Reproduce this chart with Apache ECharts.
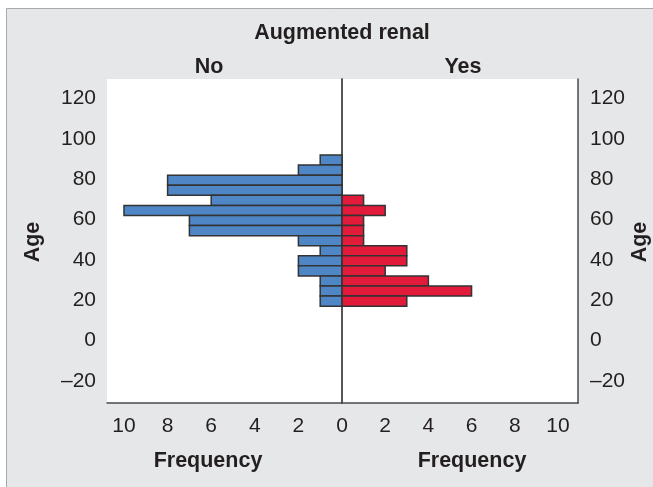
<!DOCTYPE html>
<html>
<head>
<meta charset="utf-8">
<script src="https://cdn.jsdelivr.net/npm/echarts@6/dist/echarts.min.js"></script>
<style>
  html, body { margin: 0; padding: 0; background: #ffffff; }
  #chart { width: 653px; height: 487px; }
</style>
</head>
<body>
<div id="chart"></div>
<script>
// Age bins (lower edge, 5-year width, starting at the youngest age) and counts per group
const binStarts = [87, 82, 77, 72, 67, 62, 57, 52, 47, 42, 37, 32, 27, 22, 17];
const binWidth = 5;
const countsNo  = [1, 2, 8, 8, 6, 10, 7, 7, 2, 1, 2, 2, 1, 1, 1];
const countsYes = [0, 0, 0, 0, 1, 2, 1, 1, 1, 3, 3, 2, 4, 6, 3];

const ageTicks = [-20, 0, 20, 40, 60, 80, 100, 120];
const freqTicksNo  = [2, 4, 6, 8, 10];
const freqTicksYes = [0, 2, 4, 6, 8, 10];

const FONT = "'Liberation Sans', Arial, Helvetica, sans-serif";
const TXT = '#231f20';
const LINE = '#4a4a4a';
const BOLD = 'bold 21.5px ' + FONT;

const toData = counts => binStarts.map((b, i) => [b, b + binWidth, counts[i]]);

function barRenderer(fill) {
  return function (params, api) {
    const f = api.value(2);
    if (!f) return null;
    const a = api.coord([0, api.value(1)]);
    const b = api.coord([f, api.value(0)]);
    const x = Math.min(a[0], b[0]);
    const y = Math.min(a[1], b[1]);
    return {
      type: 'rect',
      shape: { x: x, y: y, width: Math.abs(b[0] - a[0]), height: Math.abs(b[1] - a[1]) },
      style: { fill: fill, stroke: '#333333', lineWidth: 1.5 }
    };
  };
}

const fmtMinus = v => String(v).replace('-', '\u2013');

const ageAxisBase = {
  type: 'value',
  min: -31.0,
  max: 129.67,
  splitLine: { show: false },
  axisTick: { show: false },
  axisLine: { show: true, lineStyle: { color: LINE, width: 1.5 } }
};

const labelStyle = { fontFamily: FONT, fontSize: 21, color: TXT };

function boldText(text, x, y, rotated) {
  return {
    type: 'text', x: x, y: y, rotation: rotated ? Math.PI / 2 : 0,
    style: { text: text, font: BOLD, fill: TXT, align: 'center', verticalAlign: 'middle' }
  };
}

const chart = echarts.init(document.getElementById('chart'), null, { renderer: 'canvas' });
chart.setOption({
  backgroundColor: '#ffffff',
  animation: false,
  graphic: {
    elements: [
      { type: 'rect', z: -100, silent: true,
        shape: { x: 6.5, y: 8.5, width: 700, height: 520 },
        style: { fill: '#e6e7e8', stroke: '#a7a9ac', lineWidth: 1 } },
      boldText('Augmented renal', 342, 33),
      boldText('No', 209, 67),
      boldText('Yes', 463, 67),
      boldText('Frequency', 208, 461),
      boldText('Frequency', 472, 461),
      boldText('Age', 33, 242, true),
      boldText('Age', 640, 242, true)
    ]
  },
  grid: [
    { left: 107, right: 311, top: 79, bottom: 84, show: true, backgroundColor: '#ffffff', borderWidth: 0 },
    { left: 342, right: 75, top: 79, bottom: 84, show: true, backgroundColor: '#ffffff', borderWidth: 0 }
  ],
  xAxis: [
    { type: 'value', gridIndex: 0, inverse: true, min: 0, max: 10.78,
      splitLine: { show: false }, axisTick: { show: false },
      axisLine: { show: true, onZero: false, lineStyle: { color: LINE, width: 1.5 } },
      axisLabel: Object.assign({ margin: 13, customValues: freqTicksNo }, labelStyle) },
    { type: 'value', gridIndex: 1, min: 0, max: 10.93,
      splitLine: { show: false }, axisTick: { show: false },
      axisLine: { show: true, onZero: false, lineStyle: { color: LINE, width: 1.5 } },
      axisLabel: Object.assign({ margin: 13, customValues: freqTicksYes }, labelStyle) }
  ],
  yAxis: [
    Object.assign({}, ageAxisBase, { gridIndex: 0, position: 'left',
      axisLabel: Object.assign({ margin: 11, customValues: ageTicks, formatter: fmtMinus }, labelStyle) }),
    Object.assign({}, ageAxisBase, { gridIndex: 1, position: 'left', axisLabel: { show: false } }),
    Object.assign({}, ageAxisBase, { gridIndex: 1, position: 'right',
      axisLabel: Object.assign({ margin: 12, customValues: ageTicks, formatter: fmtMinus }, labelStyle) })
  ],
  series: [
    { name: 'No', type: 'custom', xAxisIndex: 0, yAxisIndex: 0,
      renderItem: barRenderer('#4f86c6'), data: toData(countsNo), encode: { x: 2, y: [0, 1] } },
    { name: 'Yes', type: 'custom', xAxisIndex: 1, yAxisIndex: 1,
      renderItem: barRenderer('#e31b3b'), data: toData(countsYes), encode: { x: 2, y: [0, 1] } }
  ]
});
</script>
</body>
</html>
